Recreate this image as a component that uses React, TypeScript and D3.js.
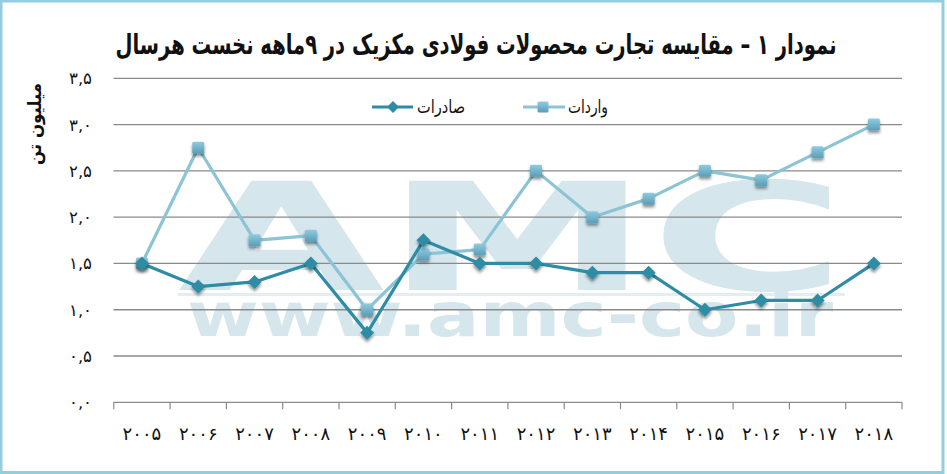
import React from "react";
import * as d3 from "d3";

const years = ["2005","2006","2007","2008","2009","2010","2011","2012","2013","2014","2015","2016","2017","2018"];
const yearLabels = ["۲۰۰۵","۲۰۰۶","۲۰۰۷","۲۰۰۸","۲۰۰۹","۲۰۱۰","۲۰۱۱","۲۰۱۲","۲۰۱۳","۲۰۱۴","۲۰۱۵","۲۰۱۶","۲۰۱۷","۲۰۱۸"];
const exportsSeries = [1.5, 1.25, 1.3, 1.5, 0.75, 1.75, 1.5, 1.5, 1.4, 1.4, 1.0, 1.1, 1.1, 1.5];
const importsSeries = [1.5, 2.75, 1.75, 1.8, 1.0, 1.6, 1.65, 2.5, 2.0, 2.2, 2.5, 2.4, 2.7, 3.0];
const yTicks = [0, 0.5, 1, 1.5, 2, 2.5, 3, 3.5];
const yTickLabels = ["۰,۰", "۰,۵", "۱,۰", "۱,۵", "۲,۰", "۲,۵", "۳,۰", "۳,۵"];
const title = "نمودار ۱ – مقایسه تجارت محصولات فولادی مکزیک در ۹ماهه نخست هرسال";
const yTitle = "میلیون تن";
const exportsName = "صادرات";
const importsName = "واردات";

const W = 947, H = 474;
const FONT = "'DejaVu Sans', sans-serif";
const C_EXP = "#2f8ca5";
const C_IMP = "#8cc4d6";
const C_GRID = "#8a8a8a";
const C_WM = "#d5e6ec";

export default function App() {
  const x = d3.scaleBand<string>().domain(years).range([113.8, 902]);
  const y = d3.scaleLinear().domain([0, 3.5]).range([402.3, 78.3]);
  const cx = (d: string) => (x(d) as number) + x.bandwidth() / 2;
  const line = d3.line<number>().x((_, i) => cx(years[i])).y((v) => y(v));
  const tickXs = years.map((d) => x(d) as number).concat([902]);

  const diamond = (px: number, py: number, r: number) =>
    `M${px},${py - r}L${px + r},${py}L${px},${py + r}L${px - r},${py}Z`;

  return (
    <svg width={W} height={H} style={{ position: "absolute", left: 0, top: 0, background: "#fff" }}>
      <defs>
        <linearGradient id="sq" x1="0" y1="0" x2="0" y2="1">
          <stop offset="0" stopColor="#8fcbe0" />
          <stop offset="1" stopColor="#5a9db6" />
        </linearGradient>
        <filter id="sh" x="-50%" y="-50%" width="200%" height="220%">
          <feDropShadow dx="0" dy="2.5" stdDeviation="1.6" floodColor="#000" floodOpacity="0.45" />
        </filter>
      </defs>
      <rect x={1} y={1} width={942} height={471.5} fill="#fff" stroke="#92cde0" strokeWidth={3} />

      {/* watermark */}
      <text x={178} y={290} fontFamily={FONT} fontWeight={900} fontSize={150} fill={C_WM}
        textLength={668} lengthAdjust="spacingAndGlyphs">AMC</text>
      <rect x={178} y={293} width={667} height={3} fill="#e4eef2" />
      <text x={187} y={336} fontFamily={FONT} fontWeight={900} fontSize={60} fill={C_WM}
        textLength={646} lengthAdjust="spacingAndGlyphs">www.amc-co.ir</text>

      {/* title */}
      <text x={476} y={54} textAnchor="middle" direction="rtl" fontFamily={FONT} fontWeight="bold"
        fontSize={28} fill="#111" textLength={721} lengthAdjust="spacingAndGlyphs">{title}</text>

      {/* grid */}
      {yTicks.slice(1).map((t) => (
        <line key={t} x1={113.5} x2={902} y1={y(t)} y2={y(t)} stroke={C_GRID} strokeWidth={1.3} />
      ))}
      {/* x axis */}
      <line x1={113.5} x2={902} y1={y(0)} y2={y(0)} stroke={C_GRID} strokeWidth={1.3} />
      {tickXs.map((tx, i) => (
        <line key={i} x1={tx} x2={tx} y1={y(0)} y2={y(0) + 7} stroke={C_GRID} strokeWidth={1.2} />
      ))}
      {yearLabels.map((lab, i) => (
        <text key={lab} x={cx(years[i])} y={440} textAnchor="middle" fontFamily={FONT} fontSize={18} fill="#111">
          {lab}
        </text>
      ))}
      {/* y labels */}
      {yTicks.map((t, i) => (
        <text key={t} x={92} y={y(t) + 6} textAnchor="end" fontFamily={FONT} fontSize={16.5} fill="#111">
          {yTickLabels[i]}
        </text>
      ))}
      <text transform="translate(41,124) rotate(-90)" textAnchor="middle" direction="rtl" fontFamily={FONT}
        fontWeight="bold" fontSize={18} fill="#111" textLength={82} lengthAdjust="spacingAndGlyphs">{yTitle}</text>

      {/* legend */}
      <line x1={372} x2={413} y1={107} y2={107} stroke={C_EXP} strokeWidth={3} />
      <path d={diamond(393, 107, 6)} fill={C_EXP} />
      <text x={465} y={113} textAnchor="start" direction="rtl" fontFamily={FONT} fontSize={18} fill="#111"
        textLength={48} lengthAdjust="spacingAndGlyphs">{exportsName}</text>
      <line x1={523} x2={565} y1={107} y2={107} stroke={C_IMP} strokeWidth={3} />
      <rect x={537.5} y={101.5} width={11} height={11} rx={1.5} fill="url(#sq)" />
      <text x={608} y={113} textAnchor="start" direction="rtl" fontFamily={FONT} fontSize={18} fill="#111"
        textLength={40} lengthAdjust="spacingAndGlyphs">{importsName}</text>

      {/* imports */}
      <path d={line(importsSeries) || ""} fill="none" stroke={C_IMP} strokeWidth={3.2} strokeLinejoin="round" />
      <g filter="url(#sh)">
        {importsSeries.map((v, i) => (
          <rect key={i} x={cx(years[i]) - 6} y={y(v) - 6} width={12} height={12} rx={1.5} fill="url(#sq)" />
        ))}
      </g>
      {/* exports */}
      <path d={line(exportsSeries) || ""} fill="none" stroke={C_EXP} strokeWidth={3.2} strokeLinejoin="round" />
      <g filter="url(#sh)">
        {exportsSeries.map((v, i) => (
          <path key={i} d={diamond(cx(years[i]), y(v), 7)} fill={C_EXP} />
        ))}
      </g>
    </svg>
  );
}
